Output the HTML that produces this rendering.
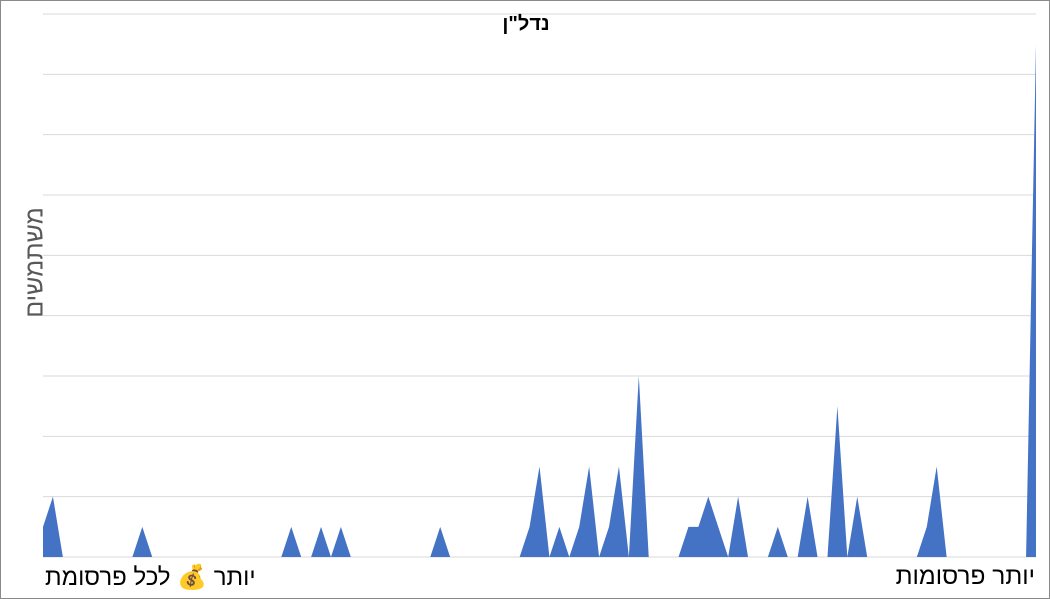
<!DOCTYPE html>
<html><head><meta charset="utf-8"><style>
body{margin:0;background:#fff;}
#wrap{position:relative;width:1048px;height:597px;border:1px solid #8a8a8a;background:#fff;font-family:"Liberation Sans","Noto Sans CJK SC",sans-serif;overflow:hidden}
.t{position:absolute;white-space:nowrap}
</style></head><body>
<div id="wrap">
<svg id="svg" width="1048" height="597" style="position:absolute;left:0;top:0"></svg>
<div class="t" style="left:0;width:1050px;text-align:center;top:12px;font-size:20px;font-weight:bold;color:#000" dir="rtl">נדל"ן</div>
<div class="t" style="left:-31px;top:247px;width:130px;text-align:center;font-size:25px;color:#595959;transform:rotate(-90deg)" dir="rtl">משתמשים</div>
<div class="t" style="left:44px;top:562px;font-size:24px;color:#000" dir="rtl">יותר 💰 לכל פרסומת</div>
<div class="t" style="right:14px;top:562px;font-size:24.5px;color:#000" dir="rtl">יותר פרסומות</div>
</div>
<script>
const values = new Array(101).fill(0);
const nonZeroIdx = [0,1,10,25,28,30,40,49,50,52,54,55,57,58,60,65,66,67,68,70,74,77,80,82,89,90,100];
const nonZeroVal = [1,2,1,1,1,1,1,1,3,1,1,3,1,3,6,1,1,2,1,2,1,2,5,2,1,3,17];
nonZeroIdx.forEach((i,k)=>values[i]=nonZeroVal[k]);
const yTicks = [0,2,4,6,8,10,12,14,16,18];
const X0=42,X1=1035,Y0=556,Y1=13,YMAX=18;
const x=i=>X0+(X1-X0)*i/(values.length-1);
const y=v=>Y0-(Y0-Y1)*v/YMAX;
const svg=document.getElementById('svg');
const NS='http://www.w3.org/2000/svg';
yTicks.forEach(t=>{
  const l=document.createElementNS(NS,'line');
  
  
  l.setAttribute('x1',X0);l.setAttribute('x2',X1);
  l.setAttribute('y1',y(t));l.setAttribute('y2',y(t));
  l.setAttribute('stroke','#d9d9d9');l.setAttribute('stroke-width','1');
  svg.appendChild(l);
});
let d='M'+x(0)+','+Y0;
values.forEach((v,i)=>{d+=' L'+x(i).toFixed(2)+','+y(v).toFixed(2);});
d+=' L'+x(values.length-1)+','+Y0+' Z';
const p=document.createElementNS(NS,'path');


p.setAttribute('d',d);p.setAttribute('fill','#4472c4');
svg.appendChild(p);
</script>
</body></html>
